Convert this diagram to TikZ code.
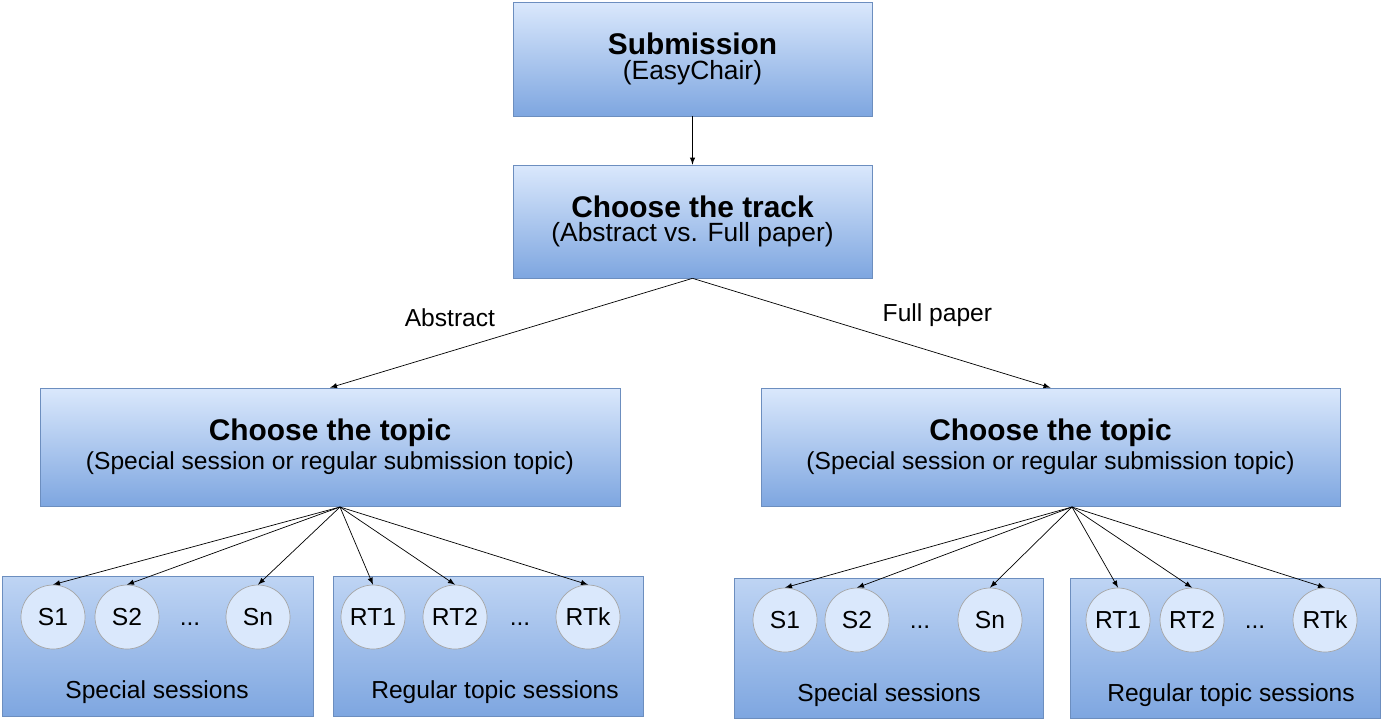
\documentclass[tikz,border=0pt]{standalone}
\usepackage{fontspec}
\setmainfont{Liberation Sans}
\usetikzlibrary{positioning}
\definecolor{boxtop}{HTML}{DAE8FC}
\definecolor{boxbot}{HTML}{7EA6E0}
\definecolor{boxline}{HTML}{6C8EBF}
\tikzset{
  box/.style={draw=boxline, top color=boxtop, bottom color=boxbot, align=center, inner sep=0pt},
  group/.style={draw=boxline, top color=boxtop!70!boxbot, bottom color=boxbot, inner sep=0pt},
  topic/.style={circle, draw=gray!70, fill=boxtop, minimum size=1.28cm, inner sep=0pt, font=\fontsize{14}{16}\selectfont},
  arr/.style={-latex, thin}
}
\begin{document}
\begin{tikzpicture}[x=0.02cm, y=-0.02cm]
  \useasboundingbox (0,0) rectangle (1381,720);

  \node[box, minimum width=7.18cm, minimum height=2.28cm] (sub) at (692.5,59)
    {{\fontsize{17}{20}\selectfont\bfseries Submission}\\[2pt]{\fontsize{15}{18}\selectfont (EasyChair)}};
  \node[box, minimum width=7.18cm, minimum height=2.26cm] (track) at (692.5,221.5)
    {{\fontsize{17}{20}\selectfont\bfseries Choose the track}\\[2pt]{\fontsize{15}{18}\selectfont (Abstract vs. Full paper)}};
  \node[box, minimum width=11.6cm, minimum height=2.36cm] (topicL) at (330,447)
    {{\fontsize{17}{20}\selectfont\bfseries Choose the topic}\\[2pt]{\fontsize{14}{17}\selectfont (Special session or regular submission topic)}};
  \node[box, minimum width=11.58cm, minimum height=2.36cm] (topicR) at (1050.5,447)
    {{\fontsize{17}{20}\selectfont\bfseries Choose the topic}\\[2pt]{\fontsize{14}{17}\selectfont (Special session or regular submission topic)}};

  % groups
  \node[group, minimum width=6.22cm, minimum height=2.8cm] (specL) at (157.5,646) {};
  \node[group, minimum width=6.2cm, minimum height=2.8cm] (regL) at (488,646) {};
  \node[group, minimum width=6.18cm, minimum height=2.8cm] (specR) at (888.5,648) {};
  \node[group, minimum width=6.2cm, minimum height=2.8cm] (regR) at (1225,648) {};
  \node[font=\fontsize{14}{17}\selectfont] at (157,692) {Special sessions};
  \node[font=\fontsize{14}{17}\selectfont] at (495,692) {Regular topic sessions};
  \node[font=\fontsize{14}{17}\selectfont] at (889,695) {Special sessions};
  \node[font=\fontsize{14}{17}\selectfont] at (1231,695) {Regular topic sessions};

  % circles
  \node[topic] (sL1) at (53,617) {S1};
  \node[topic] (sL2) at (127,617) {S2};
  \node[font=\fontsize{14}{17}\selectfont] at (190,624) {...};
  \node[topic] (sLn) at (258,617) {Sn};
  \node[topic] (rL1) at (373,617) {RT1};
  \node[topic] (rL2) at (455,617) {RT2};
  \node[font=\fontsize{14}{17}\selectfont] at (520,624) {...};
  \node[topic] (rLk) at (588,617) {RTk};
  \node[topic] (sR1) at (785,620) {S1};
  \node[topic] (sR2) at (857,620) {S2};
  \node[font=\fontsize{14}{17}\selectfont] at (920,627) {...};
  \node[topic] (sRn) at (990,620) {Sn};
  \node[topic] (rR1) at (1118,620) {RT1};
  \node[topic] (rR2) at (1192,620) {RT2};
  \node[font=\fontsize{14}{17}\selectfont] at (1255,627) {...};
  \node[topic] (rRk) at (1325,620) {RTk};

  % connectors
  \draw[arr] (sub) -- (track);
  \coordinate (tb) at (track.south);
  \draw[arr] (tb) -- (topicL.north) node[midway, above left, font=\fontsize{14}{17}\selectfont, xshift=-0.2cm] {Abstract};
  \draw[arr] (tb) -- (topicR.north) node[midway, above right, font=\fontsize{14}{17}\selectfont, xshift=0.1cm] {Full paper};

  \coordinate (lb) at (340,507);
  \foreach \c in {sL1,sL2,sLn,rL1,rL2,rLk} \draw[arr] (lb) -- (\c.north);
  \coordinate (rb) at (1072,507);
  \foreach \c in {sR1,sR2,sRn,rR1,rR2,rRk} \draw[arr] (rb) -- (\c.north);
\end{tikzpicture}
\end{document}
